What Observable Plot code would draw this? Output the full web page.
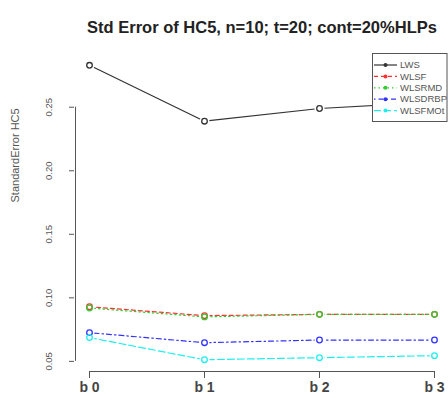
<!DOCTYPE html>
<html><head><meta charset="utf-8">
<script src="https://cdn.jsdelivr.net/npm/d3@7"></script>
<script src="https://cdn.jsdelivr.net/npm/@observablehq/plot@0.6"></script>
<style>
body{margin:0;background:#fff;font-family:"Liberation Sans",Arial,sans-serif;}
#wrap{position:relative;width:448px;height:402px;overflow:hidden;}
#legend{position:absolute;left:372px;top:53px;}
</style></head><body>
<div id="wrap"><div id="chart"></div><div id="legend"></div></div>
<script>
const categories = ["b 0", "b 1", "b 2", "b 3"];
const seriesNames = ["LWS", "WLSF", "WLSRMD", "WLSDRBP", "WLSFMOt"];
const LWS     = [0.283, 0.239, 0.249, 0.254];
const WLSF    = [0.093, 0.086, 0.087, 0.087];
const WLSRMD  = [0.092, 0.085, 0.087, 0.087];
const WLSDRBP = [0.0726, 0.0647, 0.0668, 0.0668];
const WLSFMOt = [0.0687, 0.0513, 0.0529, 0.0545];
const yTicks = [0.05, 0.10, 0.15, 0.20, 0.25];
const titleText = "Std Error of HC5, n=10; t=20; cont=20%HLPs";
const yLabel = "StandardError HC5";

const seriesValues = [LWS, WLSF, WLSRMD, WLSDRBP, WLSFMOt];
const colors = ["#333333", "#ff3030", "#33cc33", "#3333ff", "#22eeee"];
const dashes = [null, "4,3", "1.5,3", "1.5,3,5,3", "7,3"];

const data = [];
seriesNames.forEach((s, i) => categories.forEach((c, j) => data.push({series: s, cat: c, value: seriesValues[i][j]})));

const all = data.map(d => d.value);
const lo = d3.min(all), hi = d3.max(all), pad = (hi - lo) * 0.04;
const yDom = [lo - pad, hi + pad];

const marks = [];
// axis lines (R style)
marks.push(Plot.ruleY([yDom[0]], {x1: () => categories[0], x2: () => categories[categories.length - 1], stroke: "#555", strokeWidth: 1}));
marks.push(Plot.ruleX([categories[0]], {y1: () => yTicks[0], y2: () => yTicks[yTicks.length - 1], dx: -14, stroke: "#555", strokeWidth: 1}));
marks.push(Plot.axisX({ticks: categories, tickSize: 7, tickPadding: 4, fontSize: 14, fontWeight: "bold", fill: "#444", stroke: "#555", label: null}));
marks.push(Plot.axisY({ticks: yTicks, tickSize: 5, dx: -14, tickRotate: -90, tickPadding: 18, fontSize: 9.5, fill: "#555", stroke: "#555", tickFormat: d3.format(".2f"), label: null}));
marks.push(Plot.text([yLabel], {frameAnchor: "left", rotate: -90, dx: -73, dy: -10, fontSize: 11, fill: "#555"}));
seriesNames.forEach((s, i) => {
  const sub = data.filter(d => d.series === s);
  marks.push(Plot.line(sub, {x: "cat", y: "value", stroke: colors[i], strokeWidth: 1.2, strokeDasharray: dashes[i]}));
  marks.push(Plot.dot(sub, {x: "cat", y: "value", r: 5, fill: "white"}));
});
seriesNames.forEach((s, i) => {
  const sub = data.filter(d => d.series === s);
  marks.push(Plot.dot(sub, {x: "cat", y: "value", r: 2.8, stroke: colors[i], strokeWidth: 1.3, fill: "none"}));
});
marks.push(Plot.text([titleText], {frameAnchor: "top", dy: -32, fontSize: 16.5, fontWeight: "bold", fill: "#222"}));

const chart = Plot.plot({
  width: 448, height: 402,
  marginLeft: 88, marginRight: 13, marginTop: 53, marginBottom: 31,
  style: {fontFamily: "'Liberation Sans', Arial, sans-serif", background: "white"},
  x: {type: "point", domain: categories, padding: 0, axis: null},
  y: {domain: yDom, axis: null},
  marks
});
document.getElementById("chart").append(chart);

// legend
const lg = d3.select("#legend").append("svg").attr("width", 78).attr("height", 70);
lg.append("rect").attr("x", 0.5).attr("y", 0.5).attr("width", 74.5).attr("height", 68).attr("fill", "white").attr("stroke", "#555");
seriesNames.forEach((s, i) => {
  const y = 12 + i * 11.4;
  lg.append("line").attr("x1", 2).attr("x2", 25).attr("y1", y).attr("y2", y)
    .attr("stroke", colors[i]).attr("stroke-width", 1.2).attr("stroke-dasharray", dashes[i]);
  lg.append("circle").attr("cx", 13.5).attr("cy", y).attr("r", 2).attr("fill", colors[i]);
  lg.append("text").attr("x", 28).attr("y", y + 3.2).attr("font-size", 9.5).attr("fill", "#555").text(s);
});
</script></body></html>
